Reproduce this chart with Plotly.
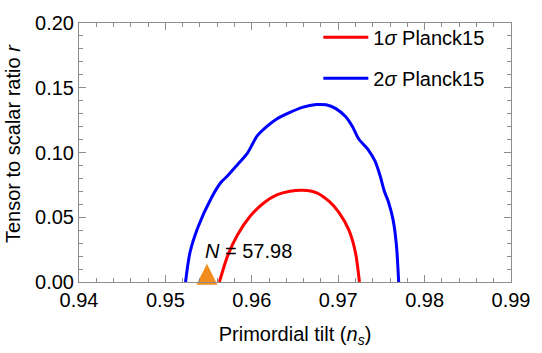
import plotly.graph_objects as go

# 2-sigma Planck15 contour (ns, r)
ns_2sigma = [0.95233, 0.95284, 0.95378, 0.95530, 0.95644, 0.95720, 0.95834, 0.95948,
             0.96062, 0.96175, 0.96289, 0.96441, 0.96593, 0.96745, 0.96859, 0.96973,
             0.97087, 0.97163, 0.97238, 0.97352, 0.97428, 0.97485, 0.97534, 0.97580,
             0.97637, 0.97675, 0.97700]
r_2sigma = [0.0000, 0.0227, 0.0425, 0.0647, 0.0770, 0.0820, 0.0906, 0.0993,
            0.1128, 0.1202, 0.1259, 0.1309, 0.1350, 0.1370, 0.1368, 0.1339,
            0.1276, 0.1202, 0.1104, 0.1017, 0.0931, 0.0820, 0.0701, 0.0622,
            0.0474, 0.0276, 0.0000]

# 1-sigma Planck15 contour (ns, r)
ns_1sigma = [0.95625, 0.95720, 0.95834, 0.95985, 0.96138, 0.96289, 0.96441, 0.96593,
             0.96745, 0.96896, 0.97010, 0.97124, 0.97200, 0.97246]
r_1sigma = [0.0000, 0.0202, 0.0363, 0.0511, 0.0610, 0.0672, 0.0701, 0.0709,
            0.0691, 0.0622, 0.0536, 0.0400, 0.0227, 0.0000]

# model prediction point (marker apex)
model_ns = [0.95481]
model_r = [0.0141]
model_label = "<i>N</i> = 57.98"

x_ticks = [0.94, 0.95, 0.96, 0.97, 0.98, 0.99]
y_ticks = [0.00, 0.05, 0.10, 0.15, 0.20]

FONT = "Liberation Sans, Arial, sans-serif"
GREY = "#8c8c8c"
FS = 20

fig = go.Figure()
fig.add_trace(go.Scatter(x=ns_1sigma, y=r_1sigma, mode="lines",
                         line=dict(color="#ff0000", width=3, shape="spline", smoothing=0.7),
                         name="1<i>σ</i> Planck15", legendgroup="a"))
fig.add_trace(go.Scatter(x=ns_2sigma, y=r_2sigma, mode="lines",
                         line=dict(color="#0000ff", width=3, shape="spline", smoothing=0.7),
                         name="2<i>σ</i> Planck15", legendgroup="b"))
fig.add_trace(go.Scatter(x=model_ns, y=model_r, mode="markers",
                         marker=dict(symbol="arrow-up", size=21, color="#f28c1e",
                                     line=dict(width=0)),
                         showlegend=False, cliponaxis=False))

fig.add_annotation(x=0.95435, y=0.0237, text=model_label, showarrow=False,
                   xanchor="left", yanchor="middle", font=dict(size=FS, color="black", family=FONT))

# y-axis title placed as an annotation to match reference position
fig.add_annotation(xref="paper", yref="paper", x=-0.1526, y=0.533,
                   text="Tensor to scalar ratio <i>r</i>", textangle=-90, showarrow=False,
                   xanchor="center", yanchor="middle",
                   font=dict(size=FS, color="black", family=FONT))

axis_common = dict(showline=True, linecolor=GREY, linewidth=1, mirror="ticks",
                   ticks="inside", tickcolor=GREY, ticklen=7, tickwidth=1,
                   showgrid=False, zeroline=False,
                   tickfont=dict(size=FS, color="black", family=FONT))

fig.update_xaxes(range=[0.94, 0.99], tickvals=x_ticks, tickformat=".2f",
                 minor=dict(dtick=0.002, ticks="inside", ticklen=4, tickcolor=GREY, showgrid=False),
                 title=dict(text="Primordial tilt (<i>n<sub>s</sub></i>)", standoff=16,
                            font=dict(size=FS, color="black", family=FONT)),
                 **axis_common)
fig.update_yaxes(range=[0.0, 0.2], tickvals=y_ticks, tickformat=".2f",
                 minor=dict(dtick=0.01, ticks="inside", ticklen=4, tickcolor=GREY, showgrid=False),
                 **axis_common)

fig.update_layout(
    width=542, height=353,
    margin=dict(l=79, r=24, t=14, b=69),
    plot_bgcolor="white", paper_bgcolor="white",
    font=dict(family=FONT, size=FS, color="black"),
    showlegend=True,
    legend=dict(x=0.554, y=1.02, xanchor="left", yanchor="top",
                bgcolor="rgba(0,0,0,0)", borderwidth=0, tracegroupgap=12,
                itemwidth=45,
                font=dict(size=FS, color="black", family=FONT)),
)

fig.write_html("out.html")
